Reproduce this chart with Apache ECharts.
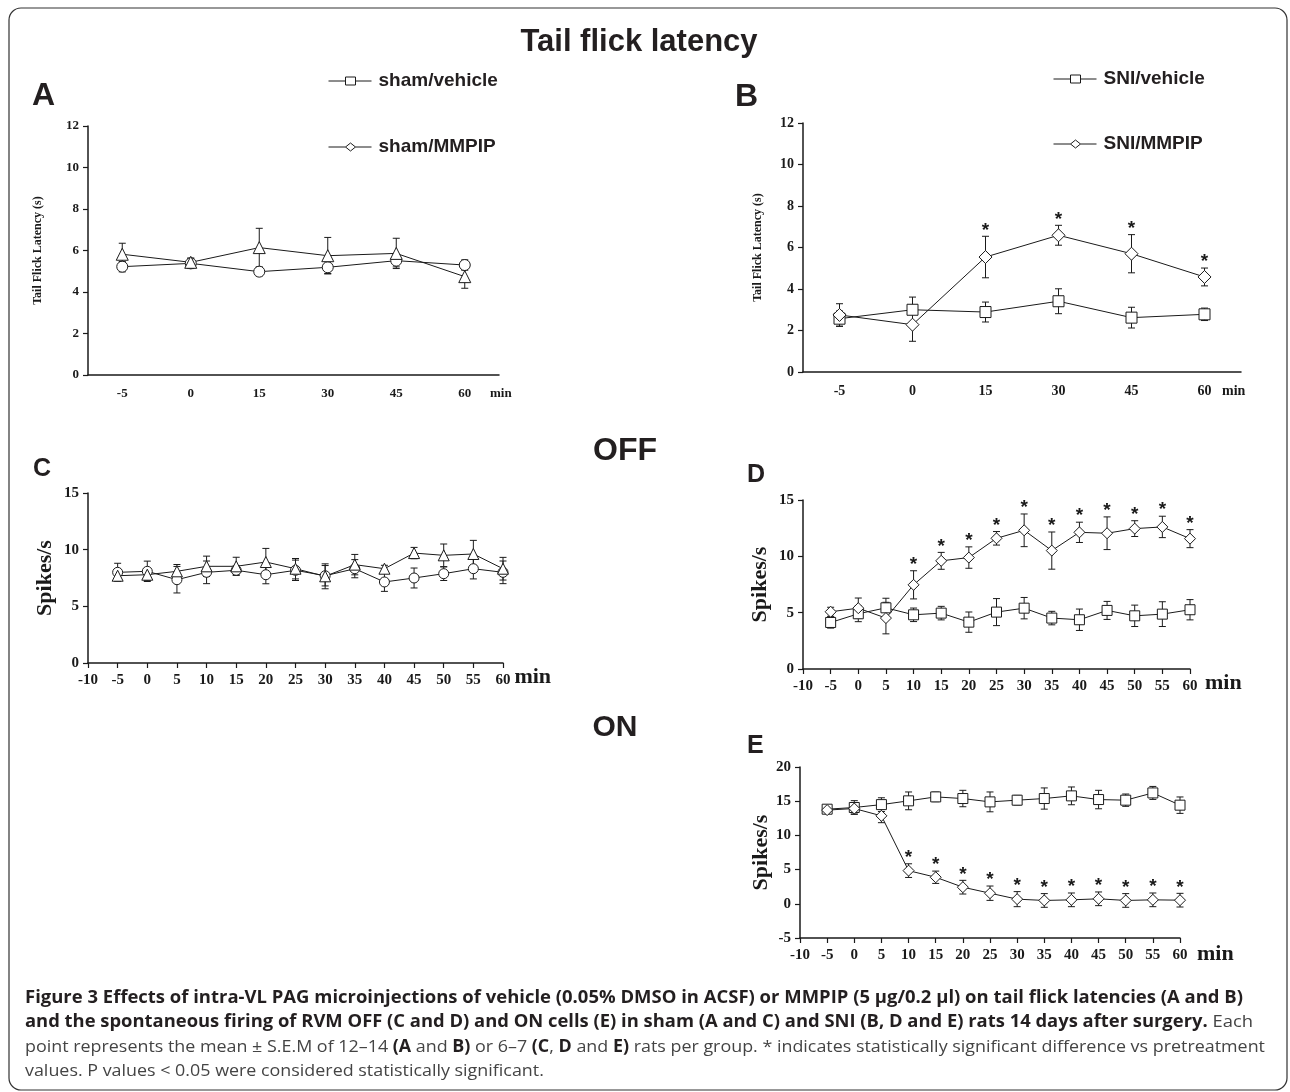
<!DOCTYPE html>
<html>
<head>
<meta charset="utf-8">
<title>Tail flick latency</title>
<script src="https://cdn.jsdelivr.net/npm/echarts@6/dist/echarts.min.js"></script>
<style>
html, body { margin: 0; background: #fff; }
#chart { width: 1290px; height: 1092px; }
</style>
</head>
<body>
<div id="chart"></div>
<script>
// tail flick (A, B): category time points
const tfTimes = ['-5', '0', '15', '30', '45', '60']
const shamVehTF = [5.22, 5.38, 4.98, 5.19, 5.51, 5.30]
const shamVehTFsem = [0.25, 0.25, 0.2, 0.3, 0.3, 0.25]
const shamMmpTF = [5.82, 5.43, 6.14, 5.75, 5.86, 4.74]
const shamMmpTFsem = [0.53, 0.2, 0.93, 0.88, 0.73, 0.56]
const sniVehTF = [2.57, 3.0, 2.89, 3.41, 2.62, 2.78]
const sniVehTFsem = [0.37, 0.61, 0.48, 0.6, 0.5, 0.3]
const sniMmpTF = [2.75, 2.28, 5.54, 6.59, 5.70, 4.58]
const sniMmpTFsem = [0.54, 0.8, 1.0, 0.48, 0.92, 0.43]
const sniTFsig = [0, 0, 1, 1, 1, 1]

// cell firing (C, D, E)
const cellTimes = [-5, 0, 5, 10, 15, 20, 25, 30, 35, 40, 45, 50, 55, 60]
const shamVehOff = [8.0, 8.09, 7.35, 8.0, 8.18, 7.79, 8.18, 7.7, 8.32, 7.15, 7.5, 7.88, 8.32, 8.0]
const shamVehOffSem = [0.8, 0.9, 1.17, 1.0, 0.4, 0.8, 0.9, 0.9, 0.8, 0.83, 0.88, 0.6, 0.9, 1.0]
const shamMmpOff = [7.7, 7.79, 8.09, 8.53, 8.53, 8.91, 8.32, 7.65, 8.68, 8.32, 9.7, 9.5, 9.62, 8.32]
const shamMmpOffSem = [0.3, 0.5, 0.6, 0.9, 0.8, 1.2, 0.9, 1.1, 0.9, 0.3, 0.5, 1.0, 1.2, 1.0]
const sniVehOff = [4.13, 4.9, 5.43, 4.81, 4.96, 4.16, 5.05, 5.40, 4.52, 4.37, 5.2, 4.72, 4.87, 5.26]
const sniVehOffSem = [0.5, 0.7, 0.85, 0.6, 0.6, 0.9, 1.2, 0.95, 0.6, 0.95, 0.8, 0.95, 1.1, 0.9]
const sniMmpOff = [5.08, 5.40, 4.52, 7.47, 9.6, 9.89, 11.6, 12.31, 10.51, 12.13, 12.05, 12.46, 12.61, 11.57]
const sniMmpOffSem = [0.4, 0.9, 1.4, 1.25, 0.75, 0.95, 0.6, 1.45, 1.65, 0.9, 1.45, 0.7, 0.95, 0.8]
const sniVehOn = [13.83, 14.08, 14.5, 15.05, 15.63, 15.39, 14.9, 15.15, 15.39, 15.78, 15.24, 15.15, 16.21, 14.42]
const sniVehOnSem = [0.5, 1.0, 1.0, 1.3, 0.7, 1.2, 1.45, 0.7, 1.55, 1.3, 1.35, 0.9, 0.95, 1.2]
const sniMmpOn = [13.7, 13.93, 12.86, 4.85, 3.88, 2.43, 1.55, 0.68, 0.49, 0.58, 0.73, 0.49, 0.58, 0.53]
const sniMmpOnSem = [0.5, 0.8, 1.0, 1.0, 0.9, 1.0, 1.05, 1.1, 1.0, 1.0, 1.0, 1.0, 1.0, 1.0]
const sniCellSig = [0, 0, 0, 1, 1, 1, 1, 1, 1, 1, 1, 1, 1, 1]

const serif = '"Liberation Serif", "Times New Roman", serif'
const sans = '"Liberation Sans", Arial, sans-serif'
const ink = '#1a1a1a'

const chart = echarts.init(document.getElementById('chart'))

const grids = [
    { left: 88, top: 126, width: 411, height: 249 },   // A
    { left: 803, top: 123, width: 438, height: 249 },  // B
    { left: 88, top: 493, width: 415, height: 170 },   // C
    { left: 803, top: 500, width: 387, height: 169 },  // D
    { left: 800, top: 767, width: 380, height: 171 }   // E
]

const axisLine = { onZero: false, lineStyle: { color: ink, width: 1.5 } }
const axisTick = { length: 5, lineStyle: { color: ink, width: 1.2 } }

function catX(gi, fs, gap) {
    return {
        type: 'category', gridIndex: gi, data: tfTimes, boundaryGap: true,
        axisLine, axisTick: { ...axisTick, alignWithLabel: true },
        axisLabel: { color: ink, fontFamily: serif, fontWeight: 'bold', fontSize: fs, margin: 12 },
        name: 'min', nameLocation: 'end', nameGap: gap,
        nameTextStyle: { color: ink, fontFamily: serif, fontWeight: 'bold', fontSize: fs, verticalAlign: 'top', padding: [12, 0, 0, 0] }
    }
}

function valX(gi, gap, pad) {
    return {
        type: 'value', gridIndex: gi, min: -10, max: 60, interval: 5,
        axisLine, axisTick, splitLine: { show: false },
        axisLabel: { color: ink, fontFamily: serif, fontWeight: 'bold', fontSize: 15, margin: 10 },
        name: 'min', nameLocation: 'end', nameGap: gap,
        nameTextStyle: { color: ink, fontFamily: serif, fontWeight: 'bold', fontSize: 22, verticalAlign: 'top', padding: [pad, 0, 0, 0] }
    }
}

function valY(gi, min, max, interval, fs, name, nameFs, nameGap) {
    return {
        type: 'value', gridIndex: gi, min, max, interval,
        axisLine: { show: true, ...axisLine }, axisTick: { show: true, ...axisTick }, splitLine: { show: false },
        axisLabel: { color: ink, fontFamily: serif, fontWeight: 'bold', fontSize: fs, margin: 9 },
        name, nameLocation: 'middle', nameGap,
        nameTextStyle: { color: ink, fontFamily: serif, fontWeight: 'bold', fontSize: nameFs }
    }
}

function lineSeries(name, gi, xs, ys, symbol, size) {
    return {
        type: 'line', name, xAxisIndex: gi, yAxisIndex: gi, z: 3,
        data: ys.map((v, i) => [xs[i], v]),
        symbol, symbolSize: size, showAllSymbol: true,
        lineStyle: { color: ink, width: 1 },
        itemStyle: { color: '#fff', borderColor: ink, borderWidth: 1 },
        emphasis: { disabled: true }
    }
}

function errSeries(name, gi, xs, ys, sems, sigs) {
    return {
        type: 'custom', name, xAxisIndex: gi, yAxisIndex: gi, z: 1,
        data: ys.map((v, i) => [xs[i], v, sems[i], sigs ? sigs[i] : 0]),
        encode: { x: 0, y: 1 },
        renderItem(params, api) {
            const x = api.value(0), m = api.value(1), s = api.value(2)
            const top = api.coord([x, m + s])
            const bot = api.coord([x, m - s])
            const st = { stroke: ink, lineWidth: 1 }
            const cap = 3.5
            const children = [
                { type: 'line', shape: { x1: top[0], y1: top[1], x2: bot[0], y2: bot[1] }, style: st },
                { type: 'line', shape: { x1: top[0] - cap, y1: top[1], x2: top[0] + cap, y2: top[1] }, style: st },
                { type: 'line', shape: { x1: bot[0] - cap, y1: bot[1], x2: bot[0] + cap, y2: bot[1] }, style: st }
            ]
            if (api.value(3)) {
                children.push({
                    type: 'text', x: top[0], y: top[1] - 6,
                    style: { text: '*', fill: ink, font: 'bold 19px ' + sans, align: 'center', verticalAlign: 'middle' }
                })
            }
            return { type: 'group', children }
        }
    }
}

const idx = tfTimes.map((t, i) => i)

const series = [
    errSeries('sham/vehicle', 0, idx, shamVehTF, shamVehTFsem),
    errSeries('sham/MMPIP', 0, idx, shamMmpTF, shamMmpTFsem),
    lineSeries('sham/vehicle', 0, idx, shamVehTF, 'circle', 11),
    lineSeries('sham/MMPIP', 0, idx, shamMmpTF, 'triangle', 12),

    errSeries('SNI/vehicle', 1, idx, sniVehTF, sniVehTFsem),
    errSeries('SNI/MMPIP', 1, idx, sniMmpTF, sniMmpTFsem, sniTFsig),
    lineSeries('SNI/vehicle', 1, idx, sniVehTF, 'rect', 11),
    lineSeries('SNI/MMPIP', 1, idx, sniMmpTF, 'diamond', 13),

    errSeries('sham/vehicle', 2, cellTimes, shamVehOff, shamVehOffSem),
    errSeries('sham/MMPIP', 2, cellTimes, shamMmpOff, shamMmpOffSem),
    lineSeries('sham/vehicle', 2, cellTimes, shamVehOff, 'circle', 10),
    lineSeries('sham/MMPIP', 2, cellTimes, shamMmpOff, 'triangle', 11),

    errSeries('SNI/vehicle', 3, cellTimes, sniVehOff, sniVehOffSem),
    errSeries('SNI/MMPIP', 3, cellTimes, sniMmpOff, sniMmpOffSem, sniCellSig),
    lineSeries('SNI/vehicle', 3, cellTimes, sniVehOff, 'rect', 10),
    lineSeries('SNI/MMPIP', 3, cellTimes, sniMmpOff, 'diamond', 11),

    errSeries('SNI/vehicle', 4, cellTimes, sniVehOn, sniVehOnSem),
    errSeries('SNI/MMPIP', 4, cellTimes, sniMmpOn, sniMmpOnSem, sniCellSig),
    lineSeries('SNI/vehicle', 4, cellTimes, sniVehOn, 'rect', 10),
    lineSeries('SNI/MMPIP', 4, cellTimes, sniMmpOn, 'diamond', 11)
]

const sqIcon = 'path://M0,5H17M27,5H43M17,1H27V9H17Z'
const dmIcon = 'path://M0,5H17M27,5H43M22,1L27,5L22,9L17,5Z'

function legend(left, top, gap, names) {
    return {
        left, top, padding: 0, orient: 'vertical', itemGap: gap, itemWidth: 43, itemHeight: 8,
        data: [{ name: names[0], icon: sqIcon }, { name: names[1], icon: dmIcon }],
        itemStyle: { color: '#fff', borderColor: ink, borderWidth: 1 },
        textStyle: { color: '#231f20', fontFamily: sans, fontWeight: 'bold', fontSize: 19, lineHeight: 20, padding: [0, 0, 0, 2] },
        selectedMode: true
    }
}

// caption, squeezed to the reference line widths
const capFamily = '"Open Sans", "Noto Sans", sans-serif'
const capSize = 17
const measure = document.createElement('canvas').getContext('2d')
function textW(t, bold) {
    measure.font = (bold ? 'bold ' : '') + capSize + 'px ' + capFamily
    return measure.measureText(t).width
}
const capLines = [
    { y: 998, width: 1218, segs: [['b', 'Figure 3 Effects of intra-VL PAG microinjections of vehicle (0.05% DMSO in ACSF) or MMPIP (5 μg/0.2 μl) on tail flick latencies (A and B)']] },
    { y: 1022, width: 1228, segs: [['b', 'and the spontaneous firing of RVM OFF (C and D) and ON cells (E) in sham (A and C) and SNI (B, D and E) rats 14 days after surgery.'], ['n', ' Each']] },
    { y: 1047, width: 1240, segs: [['n', 'point represents the mean ± S.E.M of 12–14 '], ['b', '(A'], ['n', ' and '], ['b', 'B)'], ['n', ' or 6–7 '], ['b', '(C'], ['n', ', '], ['b', 'D'], ['n', ' and '], ['b', 'E)'], ['n', ' rats per group. * indicates statistically significant difference vs pretreatment']] },
    { y: 1071, width: 0, segs: [['n', 'values. P values < 0.05 were considered statistically significant.']] }
]
const capRich = {
    b: { fontFamily: capFamily, fontSize: capSize, fontWeight: 'bold', fill: '#231f20' },
    n: { fontFamily: capFamily, fontSize: capSize, fill: '#444' }
}
let lastScale = 1
const captionEls = capLines.map(line => {
    const w = line.segs.reduce((acc, s) => acc + textW(s[1], s[0] === 'b'), 0)
    const sx = line.width ? line.width / w : lastScale
    lastScale = sx
    return {
        type: 'text', x: 25, y: line.y, scaleX: sx,
        style: { text: line.segs.map(s => '{' + s[0] + '|' + s[1] + '}').join(''), rich: capRich, verticalAlign: 'middle' }
    }
})

function label(text, x, y, size) {
    return { type: 'text', x, y, style: { text, font: 'bold ' + size + 'px ' + sans, fill: '#231f20', verticalAlign: 'middle' } }
}

chart.setOption({
    animation: false,
    grid: grids,
    xAxis: [catX(0, 13, -9), catX(1, 14, -19), valX(2, 10, 3), valX(3, 15, 3), valX(4, 17, 5)],
    yAxis: [
        valY(0, 0, 12, 2, 13, 'Tail Flick Latency (s)', 12, 44),
        valY(1, 0, 12, 2, 14, 'Tail Flick Latency (s)', 12, 39),
        valY(2, 0, 15, 5, 15, 'Spikes/s', 22, 32),
        valY(3, 0, 15, 5, 15, 'Spikes/s', 22, 32),
        valY(4, -5, 20, 5, 15, 'Spikes/s', 22, 27)
    ],
    legend: [
        legend(328, 71, 46, ['sham/vehicle', 'sham/MMPIP']),
        legend(1053, 69, 45, ['SNI/vehicle', 'SNI/MMPIP'])
    ],
    series,
    graphic: [
        { type: 'rect', shape: { x: 9, y: 8, width: 1278, height: 1082, r: 12 }, style: { fill: 'none', stroke: '#333', lineWidth: 1.2 }, silent: true },
        { type: 'text', x: 639, y: 42, style: { text: 'Tail flick latency', font: 'bold 31px ' + sans, fill: '#231f20', align: 'center', verticalAlign: 'middle' } },
        label('A', 32, 96, 32),
        label('B', 735, 97, 32),
        label('C', 33, 469, 25),
        label('D', 747, 475, 25),
        label('E', 747, 746, 25),
        { type: 'text', x: 625, y: 451, style: { text: 'OFF', font: 'bold 32px ' + sans, fill: '#231f20', align: 'center', verticalAlign: 'middle' } },
        { type: 'text', x: 615, y: 728, style: { text: 'ON', font: 'bold 30px ' + sans, fill: '#231f20', align: 'center', verticalAlign: 'middle' } },
        ...captionEls
    ]
})

window.addEventListener('resize', () => chart.resize())
</script>
</body>
</html>
